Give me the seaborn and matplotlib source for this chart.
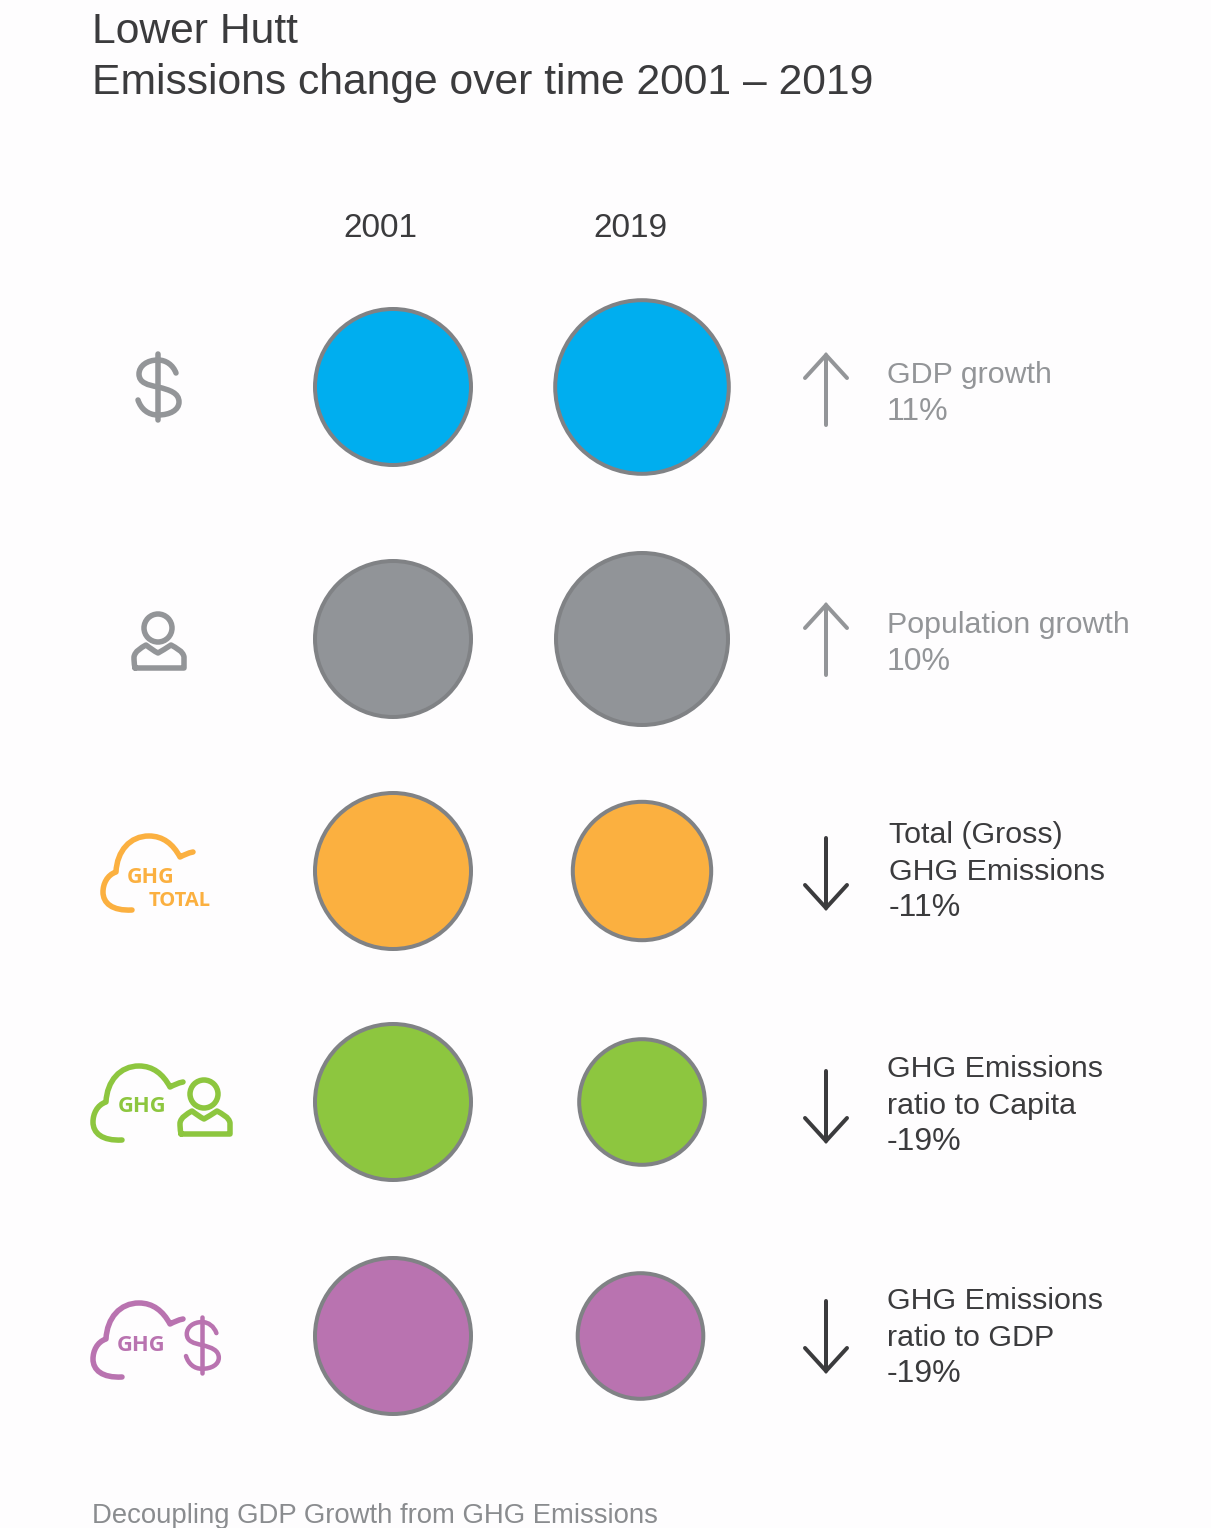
import matplotlib
matplotlib.use("Agg")
import matplotlib.pyplot as plt
import pandas as pd
import seaborn as sns
from matplotlib.patches import Circle, PathPatch
from matplotlib.path import Path

# data: index with 2001 = 100
rows = ["GDP", "Population", "Total", "Capita", "RatioGDP"]
index_2001 = [100, 100, 100, 100, 100]
index_2019 = [111, 110, 89, 81, 81]
changes = [11, 10, -11, -19, -19]
labels = [
    ["GDP growth"],
    ["Population growth"],
    ["Total (Gross)", "GHG Emissions"],
    ["GHG Emissions", "ratio to Capita"],
    ["GHG Emissions", "ratio to GDP"],
]
years = ["2001", "2019"]
colors = ["#00aeef", "#919498", "#fbb040", "#8dc63f", "#b973b0"]
title_lines = ["Lower Hutt", "Emissions change over time 2001 – 2019"]
footer = "Decoupling GDP Growth from GHG Emissions"

# layout in image pixels
W, H = 1211, 1528
row_y = [387, 639, 871, 1102, 1336]
x_2001 = 393
x_2019 = [642, 642, 642, 642, 640.5]
px_per_unit = 1.6
edge_px = 4
pt = 0.72
GREY = "#939598"
DARK = "#3b3b3d"
ORANGE, GREEN, PURPLE = colors[2], colors[3], colors[4]


def area(value):
    return ((value * px_per_unit - edge_px) * pt) ** 2


def curve(ax, verts, color, lw=4.5, dx=0, dy=0, sx=1, sy=1, cx=0, cy=0):
    # first vertex is a move, the rest come in groups of three (bezier)
    pts = [(cx + (x - cx) * sx + dx, cy + (y - cy) * sy + dy) for x, y in verts]
    codes = [Path.MOVETO] + [Path.CURVE4] * (len(pts) - 1)
    ax.add_patch(PathPatch(Path(pts, codes), fill=False, ec=color, lw=lw * pt, capstyle="round", joinstyle="round"))


def cloud(ax, color, dx=0, dy=0):
    verts = [
        (193, 852), (188, 853), (184, 855), (180, 857),
        (173, 844), (163, 836), (149, 836),
        (130, 836), (117, 851), (116, 872),
        (107, 875), (103, 884), (103, 892),
        (103, 903), (112, 911), (132, 910),
    ]
    curve(ax, verts, color, lw=5.5, dx=dx, dy=dy)


def dollar(ax, color, dx=0, dy=0, sx=1, sy=1, lw=5.5):
    verts = [
        (176, 373), (173, 365), (166, 360), (158, 360),
        (147, 360), (139, 366), (139, 374),
        (139, 383), (148, 385), (158, 387),
        (170, 390), (179, 393), (179, 402),
        (179, 410), (170, 415), (158, 415),
        (148, 415), (141, 409), (138, 400),
    ]
    curve(ax, verts, color, lw=lw, dx=dx, dy=dy, sx=sx, sy=sy, cx=158, cy=387)
    ax.plot([158 + dx, 158 + dx], [387 + (354 - 387) * sy + dy, 387 + (420 - 387) * sy + dy],
            color=color, lw=lw * pt, solid_capstyle="round")


def person(ax, color, dx=0, dy=0):
    ax.add_patch(Circle((158 + dx, 628 + dy), 14, fill=False, ec=color, lw=5.5 * pt))
    body = [
        (135, 668), (135, 668), (183, 668), (184, 668),
        (184, 663), (184, 660), (184, 657),
        (183, 651), (176, 648), (171, 645),
        (166, 648), (162, 651), (158, 653),
        (154, 651), (150, 648), (146, 645),
        (141, 648), (135, 651), (134, 657),
        (134, 660), (134, 663), (135, 668),
    ]
    curve(ax, body, color, lw=5.5, dx=dx, dy=dy)


def arrow(ax, y_mid, up, color):
    # direction comes from the sign of the change
    s = -1 if up else 1
    tip = y_mid + s * 35
    tail = y_mid - s * 35
    ax.plot([826, 826], [tail, tip], color=color, lw=4 * pt, solid_capstyle="round")
    ax.plot([805, 826, 847], [tip - s * 23, tip, tip - s * 23], color=color, lw=4 * pt,
            solid_capstyle="round", solid_joinstyle="miter")


def main():
    sns.set_theme(style="white")
    plt.rcParams["font.family"] = ["Liberation Sans", "DejaVu Sans"]

    df = pd.DataFrame({
        "row": rows * 2,
        "year": [years[0]] * 5 + [years[1]] * 5,
        "value": index_2001 + index_2019,
        "x": [x_2001] * 5 + x_2019,
        "y": row_y * 2,
    })

    fig = plt.figure(figsize=(W / 100, H / 100), dpi=100, facecolor="#fefdfe")
    ax = fig.add_axes([0, 0, 1, 1])
    sns.scatterplot(
        data=df, x="x", y="y", hue="row", size="value",
        palette=dict(zip(rows, colors)),
        sizes={v: area(v) for v in df["value"].unique()},
        edgecolor="#808285", linewidth=edge_px * pt, legend=False, ax=ax, zorder=3,
    )
    ax.set_xlim(0, W)
    ax.set_ylim(H, 0)
    ax.axis("off")

    # heading and footer
    ax.text(92, 43, title_lines[0], fontsize=30.7, color=DARK, va="baseline")
    ax.text(92, 94, title_lines[1], fontsize=30.7, color=DARK, va="baseline")
    ax.text(380, 237, years[0], fontsize=24, color=DARK, ha="center", va="baseline")
    ax.text(630, 237, years[1], fontsize=24, color=DARK, ha="center", va="baseline")
    ax.text(92, 1523, footer, fontsize=19.8, color="#8a8c8f", va="baseline")

    # right hand labels
    first_base = [383, 633, 843, 1077, 1309]
    line_x = [887, 887, 889, 887, 887]
    for i, lines in enumerate(labels):
        color = GREY if i < 2 else DARK
        for j, line in enumerate(lines):
            ax.text(line_x[i], first_base[i] + j * 36.5, line, fontsize=21.9, color=color, va="baseline")
        ax.text(line_x[i], first_base[i] + len(lines) * 36.5, f"{changes[i]}%", fontsize=23, color=color, va="baseline")
        mid = [390, 640, 873, 1106, 1336][i]
        arrow(ax, mid, changes[i] > 0, color)

    # icons
    ghg = dict(family="Open Sans", fontweight="bold", ha="center", va="center")
    dollar(ax, GREY)
    person(ax, GREY)
    cloud(ax, ORANGE)
    ax.text(151, 877.5, "GHG", fontsize=15.5, color=ORANGE, **ghg)
    ax.text(179.5, 900.5, "TOTAL", fontsize=14.5, color=ORANGE, **ghg)
    cloud(ax, GREEN, dx=-10, dy=230)
    ax.text(142, 1106.5, "GHG", fontsize=15.8, color=GREEN, **ghg)
    person(ax, GREEN, dx=46, dy=466)
    cloud(ax, PURPLE, dx=-10, dy=467)
    ax.text(141.5, 1345.5, "GHG", fontsize=15.8, color=PURPLE, **ghg)
    dollar(ax, PURPLE, dx=44, dy=958, sx=0.8, sy=0.85, lw=4.5)

    fig.savefig("out.png", dpi=100, facecolor=fig.get_facecolor())


if __name__ == "__main__":
    main()
